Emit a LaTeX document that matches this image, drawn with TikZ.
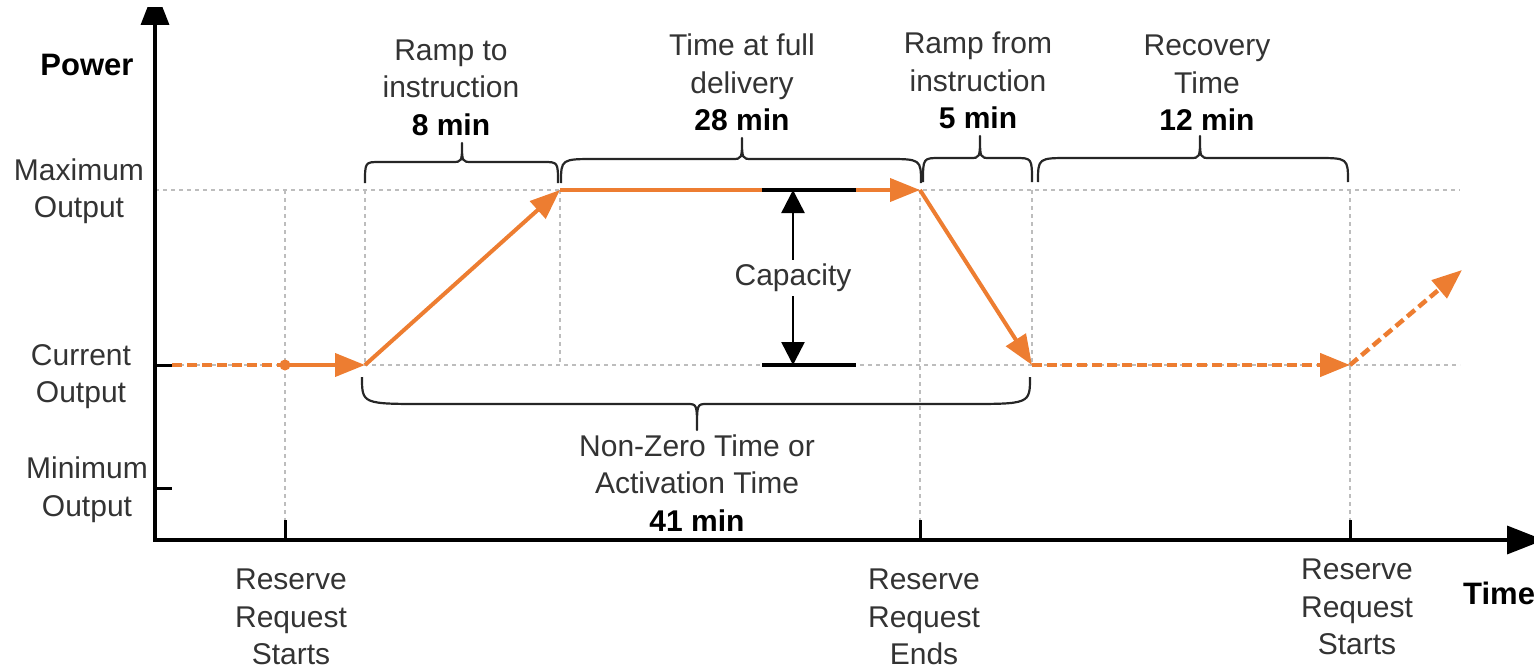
\documentclass[tikz,border=0pt]{standalone}
\usepackage{fontspec}
\setmainfont{Liberation Sans}
\usetikzlibrary{arrows.meta}
\definecolor{orng}{HTML}{ED7D31}
\definecolor{txt}{HTML}{333333}
\definecolor{gridc}{HTML}{BDBDBD}
\newcommand{\mybrace}[7]{% x1, x2, xm, ybase, yline, ytip, r
  \draw[brc] (#1,#4) .. controls (#1,#5) .. ({#1+#7},#5) -- ({#3-10},#5)
    .. controls (#3,#5) .. (#3,#6) .. controls (#3,#5) .. ({#3+10},#5)
    -- ({#2-#7},#5) .. controls (#2,#5) .. (#2,#4);}
\begin{document}
\begin{tikzpicture}[x=1pt,y=-1pt,
  lbl/.style={font=\fontsize{30}{37.5}\selectfont, text=txt, align=center, inner sep=0pt},
  blbl/.style={font=\fontsize{31}{37.5}\selectfont\bfseries, text=black, inner sep=0pt},
  gridline/.style={draw=gridc, line width=1.5pt, dash pattern=on 4pt off 4pt},
  axisline/.style={line width=3.5pt, draw=black},
  tickline/.style={line width=3pt, draw=black},
  brc/.style={line width=2.2pt, draw=black!85, line join=round},
  oline/.style={draw=orng, line width=4pt},
  odash/.style={draw=orng, line width=4.5pt, dash pattern=on 10pt off 5pt},
  otip/.style={-{Triangle[length=30pt,width=23pt]}},
  captip/.style={{Triangle[length=23pt,width=23pt]}-{Triangle[length=23pt,width=23pt]}},
]
\useasboundingbox (0,0) rectangle (1534,669);
\clip (0,0) rectangle (1534,669);

% key points
\coordinate (o) at (155,540);
\coordinate (cstart) at (172,365);
\coordinate (req) at (285,365);
\coordinate (ramp) at (365,365);
\coordinate (full) at (560,190);
\coordinate (endreq) at (920,190);
\coordinate (back) at (1032,365);
\coordinate (req2) at (1350,365);
\coordinate (next) at (1462,270);

% grid lines
\draw[gridline] (155,190) -- (1460,190);
\draw[gridline] (172,365) -- (1460,365);
\draw[gridline] (285,190) -- (285,520);
\draw[gridline] (365,190) -- (365,365);
\draw[gridline] (560,190) -- (560,365);
\draw[gridline] (920,190) -- (920,520);
\draw[gridline] (1032,190) -- (1032,365);
\draw[gridline] (1350,190) -- (1350,520);

% axes
\begin{scope}
\clip (0,8) rectangle (1534,669);
\draw[axisline,-{Triangle[length=37pt,width=28pt]}] (155,541.75) -- (155,-12);
\end{scope}
\draw[axisline,-{Triangle[length=37pt,width=28pt]}] (153.25,540) -- (1544,540);
\draw[tickline] (155,365) -- (172,365);
\draw[tickline] (155,488) -- (172,488);
\draw[tickline] (285,520) -- (285,540);
\draw[tickline] (920,520) -- (920,540);
\draw[tickline] (1350,520) -- (1350,540);

% braces
\mybrace{365}{558}{462}{183}{162}{143}{15}
\mybrace{561}{921}{742}{183}{159}{138}{35}
\mybrace{923}{1032}{980}{182}{158}{136}{17}
\mybrace{1038}{1348}{1200}{182}{158}{136}{32}
\mybrace{362}{1030}{697}{377}{404}{430}{65}

% orange curve
\draw[odash] (cstart) -- (req);
\fill[orng] (req) circle (5.5pt);
\draw[oline,otip] (req) -- (ramp);
\draw[oline,otip] (ramp) -- (full);
\draw[oline,otip] (full) -- (endreq);
\draw[oline,otip] (endreq) -- (back);
\draw[odash,otip] (back) -- (req2);
\draw[odash,otip] (req2) -- (next);

% capacity
\draw[line width=4pt] (762,190) -- (856,190);
\draw[line width=4pt] (762,365) -- (856,365);
\coordinate (captop) at (793,190);
\coordinate (capbot) at (793,365);
\draw[line width=2.5pt,captip] (captop) -- (capbot);
\node[lbl, fill=white, inner xsep=3pt, inner ysep=4.5pt] (cap) at (793,278) {Capacity};

% labels
\node[blbl] (power) at (87,65) {Power};
\node[lbl] (maxo) at (79,191) {Maximum\\Output};
\node[lbl] (curo) at (81,376.5) {Current\\Output};
\node[lbl] (mino) at (87,489.5) {Minimum\\Output};

\node[lbl] (t1) at (451,87.5) {Ramp to\\instruction\\\textbf{\textcolor{black}{8 min}}};
\node[lbl] (t2) at (742,82.5) {Time at full\\delivery\\\textbf{\textcolor{black}{28 min}}};
\node[lbl] (t3) at (978,80.5) {Ramp from\\instruction\\\textbf{\textcolor{black}{5 min}}};
\node[lbl] (t4) at (1207,83) {Recovery\\Time\\\textbf{\textcolor{black}{12 min}}};
\node[lbl] (t5) at (697,483) {Non-Zero Time or\\Activation Time\\\textbf{\textcolor{black}{41 min}}};

\node[lbl] (b1) at (291,617) {Reserve\\Request\\Starts};
\node[lbl] (b2) at (924,617) {Reserve\\Request\\Ends};
\node[lbl] (b3) at (1357,607) {Reserve\\Request\\Starts};
\node[blbl, anchor=west] (time) at (1463,593) {Time};
\end{tikzpicture}
\end{document}
